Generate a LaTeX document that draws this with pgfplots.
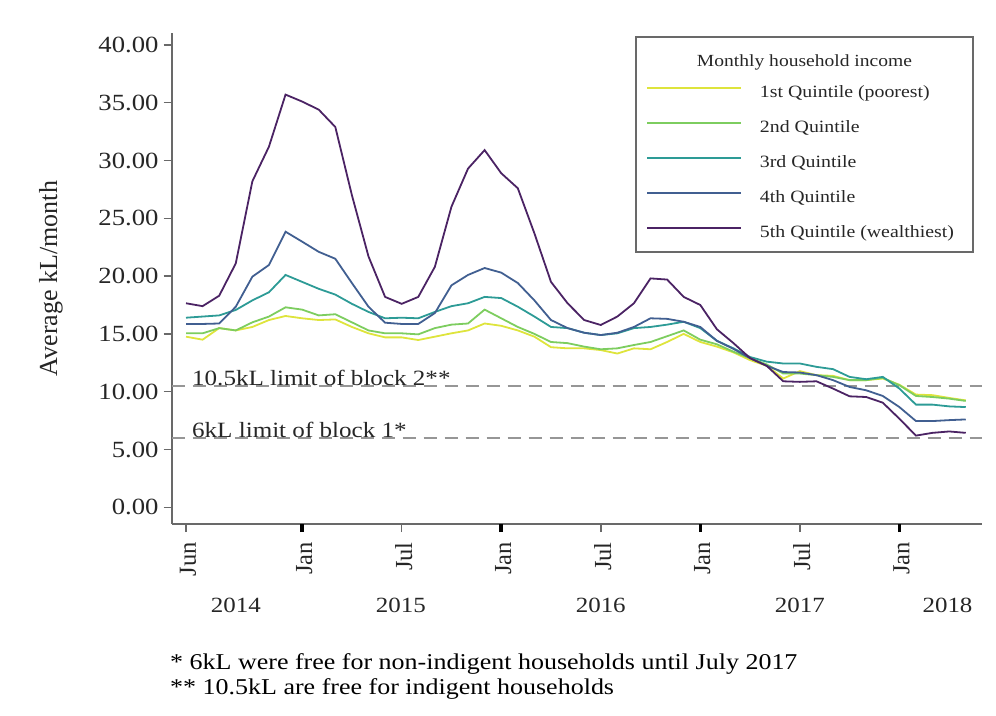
\documentclass[border=0pt]{standalone}
\usepackage{fontspec}
\setmainfont{Liberation Serif}
\newfontfamily\hfont[FakeStretch=1.15]{Liberation Serif}
\usepackage{pgfplots}
\pgfplotsset{compat=1.18}
\usepackage{pgfplotstable}

\definecolor{qa}{RGB}{222,228,60}
\definecolor{qb}{RGB}{125,205,95}
\definecolor{qc}{RGB}{45,155,150}
\definecolor{qd}{RGB}{65,95,145}
\definecolor{qe}{RGB}{75,35,100}
\definecolor{axgray}{RGB}{105,105,105}
\definecolor{dashgray}{RGB}{150,150,150}

\pgfplotstableread{
m  q1    q2    q3    q4    q5
0  14.76 15.05 16.40 15.86 17.65
1  14.50 15.05 16.50 15.86 17.40
2  15.50 15.50 16.60 15.90 18.30
3  15.30 15.30 17.07 17.35 21.10
4  15.60 16.00 17.90 19.95 28.20
5  16.20 16.50 18.60 20.96 31.20
6  16.55 17.30 20.10 23.84 35.70
7  16.35 17.10 19.50 22.98 35.10
8  16.20 16.60 18.90 22.10 34.40
9  16.25 16.70 18.40 21.50 32.90
10 15.60 16.00 17.60 19.40 27.00
11 15.05 15.30 16.90 17.35 21.70
12 14.70 15.05 16.35 15.97 18.20
13 14.70 15.05 16.40 15.86 17.60
14 14.47 14.96 16.35 15.86 18.20
15 14.76 15.50 16.90 16.80 20.80
16 15.05 15.80 17.40 19.20 26.00
17 15.30 15.90 17.65 20.10 29.30
18 15.90 17.10 18.20 20.70 30.90
19 15.70 16.35 18.10 20.30 28.90
20 15.30 15.60 17.35 19.40 27.60
21 14.76 15.00 16.50 17.90 23.70
22 13.85 14.30 15.60 16.20 19.50
23 13.75 14.20 15.50 15.50 17.65
24 13.75 13.90 15.10 15.10 16.20
25 13.60 13.67 14.90 14.90 15.77
26 13.30 13.75 15.05 15.10 16.50
27 13.75 14.04 15.50 15.60 17.65
28 13.67 14.30 15.60 16.35 19.80
29 14.30 14.80 15.80 16.30 19.70
30 15.00 15.30 16.05 16.05 18.20
31 14.30 14.50 15.50 15.60 17.50
32 13.90 14.10 14.40 14.40 15.40
33 13.40 13.46 13.75 13.70 14.20
34 12.73 12.90 13.00 12.90 12.90
35 12.24 12.36 12.60 12.24 12.24
36 11.14 11.57 12.44 11.70 10.90
37 11.78 11.57 12.44 11.66 10.85
38 11.43 11.43 12.15 11.43 10.90
39 11.37 11.28 11.95 11.00 10.27
40 11.00 11.00 11.28 10.41 9.60
41 11.00 11.00 11.08 10.12 9.54
42 11.14 11.20 11.28 9.63  9.05
43 10.60 10.56 10.27 8.67  7.66
44 9.75  9.63  8.88  7.46  6.20
45 9.70  9.54  8.88  7.46  6.44
46 9.46  9.40  8.73  7.54  6.56
47 9.25  9.20  8.67  7.60  6.44
}\datatable

\begin{document}
\begin{tikzpicture}
\useasboundingbox (0,0) rectangle (996bp,716bp);
\begin{axis}[
  at={(171.7bp,192bp)}, anchor=south west,
  scale only axis, width=810.3bp, height=491bp,
  xmin=-0.862, xmax=47.98, ymin=-1.445, ymax=41.03,
  clip=false,
  axis x line*=bottom, axis y line*=left,
  axis line style={-, draw=axgray, line width=1.6bp},
  tick align=outside, major tick length=8bp,
  tick style={draw=axgray, line width=1.5bp},
  ytick={0,5,10,15,20,25,30,35,40},
  yticklabels={0.00,5.00,10.00,15.00,20.00,25.00,30.00,35.00,40.00},
  yticklabel style={font=\hfont\fontsize{23.2bp}{26bp}\selectfont, text=black!85, inner xsep=0pt, xshift=-5bp},
  xtick={0,13,25,37}, xticklabels={Jun,Jul,Jul,Jul},
  extra x ticks={7,19,31,43}, extra x tick labels={Jan,Jan,Jan,Jan},
  extra x tick style={major tick style={line width=3.6bp, draw=black}},
  xticklabel style={rotate=90, anchor=east, font=\fontsize{24.5bp}{26bp}\selectfont, text=black!85, inner xsep=0pt, xshift=-10bp, yshift=-2bp},
  legend style={at={(0.5853,0.894)}, anchor=north west, draw=none, fill=none,
    inner sep=0pt, row sep=18.5bp, column sep=18bp,
    font=\hfont\fontsize{17.25bp}{20bp}\selectfont,
    nodes={inner xsep=0pt, inner ysep=0pt, text height=12.5bp, text depth=4bp, text=black!85}},
  legend cell align=left,
  legend image code/.code={\draw[#1] (0bp,5.5bp) -- (94bp,5.5bp);},
]
\addplot[dashgray, line width=2bp, dash pattern=on 13bp off 8bp, forget plot] coordinates {(-0.862,10.5) (47.98,10.5)};
\addplot[dashgray, line width=2bp, dash pattern=on 13bp off 8bp, forget plot] coordinates {(-0.862,6) (47.98,6)};
\addplot[qa, line width=1.8bp] table[x=m, y=q1] {\datatable};
\addlegendentry{1st Quintile (poorest)}
\addplot[qb, line width=1.8bp] table[x=m, y=q2] {\datatable};
\addlegendentry{2nd Quintile}
\addplot[qc, line width=1.8bp] table[x=m, y=q3] {\datatable};
\addlegendentry{3rd Quintile}
\addplot[qd, line width=1.8bp] table[x=m, y=q4] {\datatable};
\addlegendentry{4th Quintile}
\addplot[qe, line width=1.8bp] table[x=m, y=q5] {\datatable};
\addlegendentry{5th Quintile (wealthiest)}
\node[anchor=base west, inner sep=0pt, font=\hfont\fontsize{21.8bp}{24bp}\selectfont, text=black!85] at (axis cs:0.36,10.5) {10.5kL limit of block 2**};
\node[anchor=base west, inner sep=0pt, font=\hfont\fontsize{21.8bp}{24bp}\selectfont, text=black!85] at (axis cs:0.36,6) {6kL limit of block 1*};
\foreach \yx/\yl in {3/2014, 12.95/2015, 25/2016, 37/2017, 45.9/2018}{
  \edef\tmp{\noexpand\node[font=\noexpand\hfont\noexpand\fontsize{21.7bp}{24bp}\noexpand\selectfont, text=black!85] at (axis cs:\yx,-8.45) {\yl};}\tmp
}
\end{axis}
\node[rotate=90, font=\fontsize{26bp}{28bp}\selectfont, text=black!85] at (51bp,437.5bp) {Average kL/month};
\draw[axgray, line width=1.5bp] (636bp,464bp) rectangle (973bp,679bp);
\node[font=\hfont\fontsize{17bp}{20bp}\selectfont, text=black!85] at (804.5bp,654bp) {Monthly household income};
\node[anchor=base west, inner sep=0pt, font=\hfont\fontsize{22.6bp}{24bp}\selectfont] at (170bp,46bp) {* 6kL were free for non-indigent households until July 2017};
\node[anchor=base west, inner sep=0pt, font=\hfont\fontsize{22.6bp}{24bp}\selectfont] at (170bp,22bp) {** 10.5kL are free for indigent households};
\end{tikzpicture}
\end{document}
